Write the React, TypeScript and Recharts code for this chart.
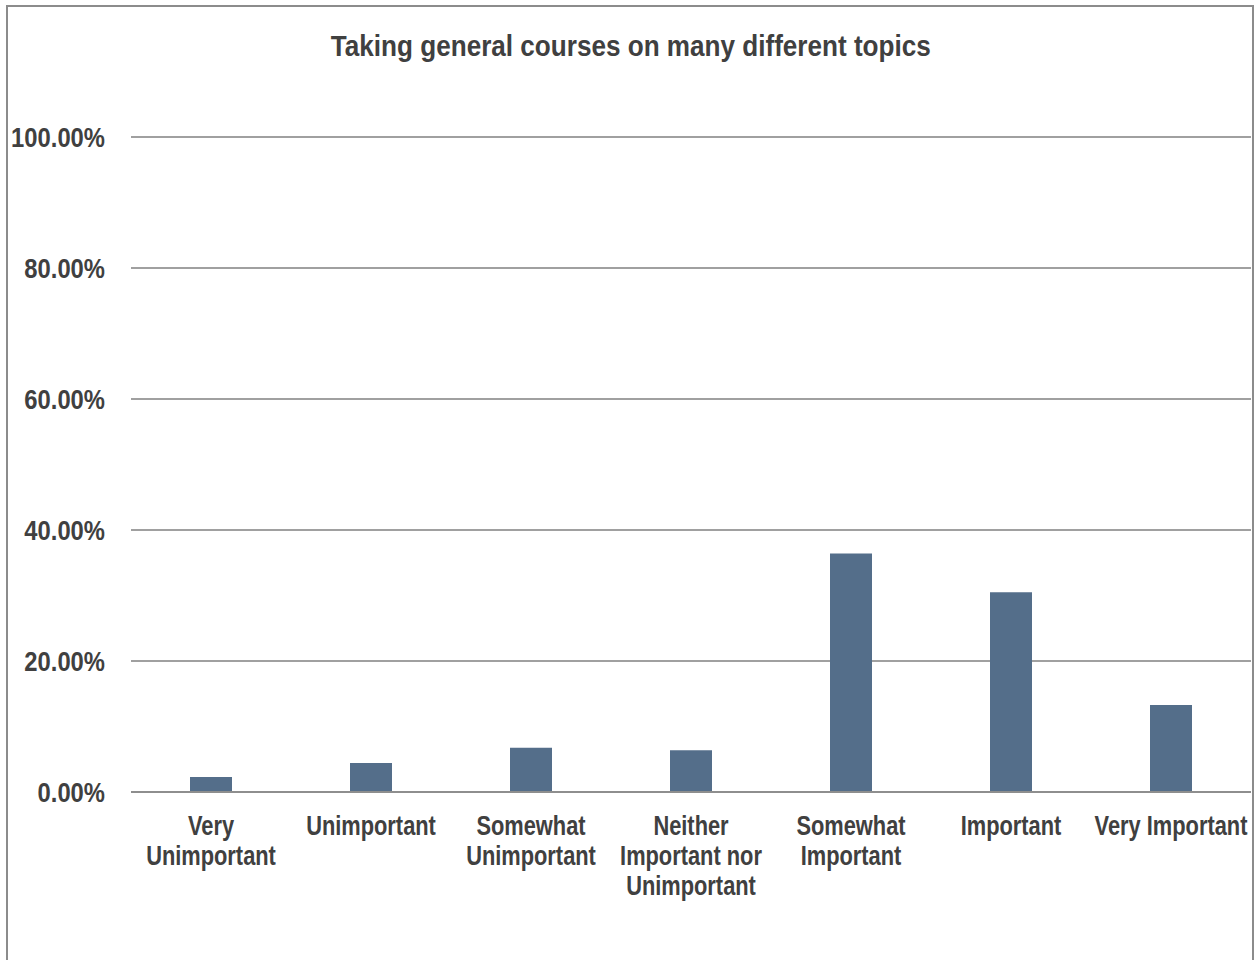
import { BarChart, Bar, XAxis, YAxis, CartesianGrid } from "recharts";

const categories = [
  "Very\nUnimportant",
  "Unimportant",
  "Somewhat\nUnimportant",
  "Neither\nImportant nor\nUnimportant",
  "Somewhat\nImportant",
  "Important",
  "Very Important",
];
const shares = [2.29, 4.43, 6.77, 6.36, 36.43, 30.51, 13.27];
const yTicks = [0, 20, 40, 60, 80, 100];

// no Arial Narrow here, so squeeze Liberation Sans horizontally
const FONT = '"Liberation Sans", Arial, sans-serif';
const INK = "#404040";

const data = categories.map((name, i) => ({ name, share: shares[i] }));

function CategoryTick(props: any) {
  const { x, y, payload } = props;
  const lines = String(payload.value).split("\n");
  return (
    <g transform={`translate(${x},${y}) scale(0.78,1)`}>
      <text
        x={0}
        y={0}
        textAnchor="middle"
        fill={INK}
        fontFamily={FONT}
        fontWeight="bold"
        fontSize={28}
      >
        {lines.map((line, i) => (
          <tspan key={i} x={0} dy={i === 0 ? 43 : 30}>
            {line}
          </tspan>
        ))}
      </text>
    </g>
  );
}

function PercentTick(props: any) {
  const { x, y, payload } = props;
  return (
    <g transform={`translate(${x},${y}) scale(0.85,1)`}>
      <text
        x={0}
        y={0}
        dy="0.36em"
        textAnchor="end"
        fill={INK}
        fontFamily={FONT}
        fontWeight="bold"
        fontSize={28}
      >
        {Number(payload.value).toFixed(2) + "%"}
      </text>
    </g>
  );
}

export default function App() {
  return (
    <div
      style={{
        position: "absolute",
        left: 0,
        top: 0,
        width: 1256,
        height: 960,
        overflow: "hidden",
        background: "#fff",
      }}
    >
      <div
        style={{
          position: "absolute",
          left: 6,
          top: 5,
          width: 1244,
          height: 1000,
          border: "2px solid #8c8c8c",
        }}
      />
      <div
        style={{
          position: "absolute",
          left: 0,
          top: 29,
          width: 1262,
          textAlign: "center",
          fontFamily: FONT,
          fontWeight: "bold",
          fontSize: 30,
          lineHeight: "34px",
          color: INK,
        }}
      >
        <span style={{ display: "inline-block", transform: "scaleX(0.87)" }}>
          Taking general courses on many different topics
        </span>
      </div>
      <div style={{ position: "absolute", left: 0, top: 0 }}>
        <BarChart
          width={1256}
          height={960}
          data={data}
          margin={{ top: 137, right: 5, bottom: 0, left: 0 }}
        >
          <CartesianGrid
            vertical={false}
            stroke="#808080"
            strokeWidth={1.5}
          />
          <XAxis
            dataKey="name"
            interval={0}
            tickLine={false}
            tickSize={0}
            tickMargin={0}
            axisLine={{ stroke: "#8e8e8e", strokeWidth: 2 }}
            tick={<CategoryTick />}
            height={168}
          />
          <YAxis
            width={131}
            domain={[0, 100]}
            ticks={yTicks}
            axisLine={false}
            tickLine={false}
            tickSize={0}
            tickMargin={26}
            tick={<PercentTick />}
          />
          <Bar
            dataKey="share"
            fill="#546e8a"
            barSize={42}
            isAnimationActive={false}
          />
        </BarChart>
      </div>
    </div>
  );
}
